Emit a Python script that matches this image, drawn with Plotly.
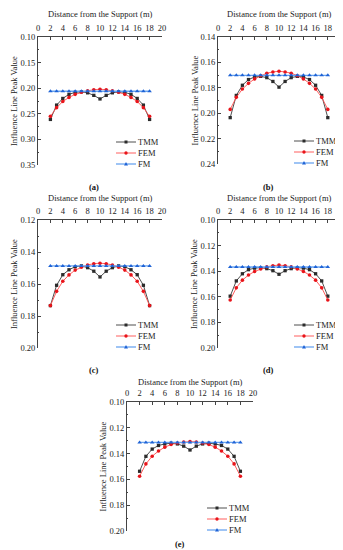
import plotly.graph_objects as go

W, H = 343, 550

x_pos = [2, 3, 4, 5, 6, 7, 8, 9, 10, 11, 12, 13, 14, 15, 16, 17, 18]
x_ticks = [0, 2, 4, 6, 8, 10, 12, 14, 16, 18, 20]
series_names = ["TMM", "FEM", "FM"]
panel_labels = ["(a)", "(b)", "(c)", "(d)", "(e)"]
x_title = "Distance from the Support (m)"
y_title = "Influence Line Peak Value"

tmm_a = [0.261, 0.233, 0.220, 0.212, 0.208, 0.207, 0.209, 0.214, 0.221, 0.214, 0.209, 0.207, 0.208, 0.212, 0.220, 0.233, 0.261]
fem_a = [0.255, 0.238, 0.226, 0.218, 0.212, 0.208, 0.205, 0.203, 0.202, 0.203, 0.205, 0.208, 0.212, 0.218, 0.226, 0.238, 0.255]
fm_a = [0.206] * 17

tmm_b = [0.2035, 0.186, 0.178, 0.1735, 0.1715, 0.171, 0.172, 0.175, 0.1795, 0.175, 0.172, 0.171, 0.1715, 0.1735, 0.178, 0.186, 0.2035]
fem_b = [0.197, 0.1875, 0.181, 0.1765, 0.173, 0.1705, 0.1685, 0.1675, 0.167, 0.1675, 0.1685, 0.1705, 0.173, 0.1765, 0.181, 0.1875, 0.197]
fm_b = [0.1702] * 17

tmm_c = [0.1735, 0.1608, 0.1542, 0.1511, 0.1492, 0.1487, 0.1498, 0.152, 0.1556, 0.152, 0.1498, 0.1487, 0.1492, 0.1511, 0.1542, 0.1608, 0.1735]
fem_c = [0.1735, 0.1646, 0.1583, 0.1543, 0.1513, 0.1495, 0.1481, 0.1473, 0.1470, 0.1473, 0.1481, 0.1495, 0.1513, 0.1543, 0.1583, 0.1646, 0.1735]
fm_c = [0.1487] * 17

tmm_d = [0.1595, 0.1476, 0.1420, 0.1388, 0.1376, 0.1372, 0.1380, 0.1396, 0.1424, 0.1396, 0.1380, 0.1372, 0.1376, 0.1388, 0.1420, 0.1476, 0.1595]
fem_d = [0.1625, 0.1530, 0.1470, 0.1430, 0.1402, 0.1382, 0.1366, 0.1357, 0.1352, 0.1357, 0.1366, 0.1382, 0.1402, 0.1430, 0.1470, 0.1530, 0.1625]
fm_d = [0.1367] * 17

tmm_e = [0.1537, 0.1421, 0.1365, 0.1337, 0.1325, 0.1320, 0.1325, 0.1342, 0.1372, 0.1342, 0.1325, 0.1320, 0.1325, 0.1337, 0.1365, 0.1421, 0.1537]
fem_e = [0.1575, 0.1480, 0.1420, 0.1380, 0.1350, 0.1330, 0.1318, 0.1310, 0.1307, 0.1310, 0.1318, 0.1330, 0.1350, 0.1380, 0.1420, 0.1480, 0.1575]
fm_e = [0.1313] * 17

panels = [
    (tmm_a, fem_a, fm_a, 0.10, 0.35, 0.05),
    (tmm_b, fem_b, fm_b, 0.14, 0.24, 0.02),
    (tmm_c, fem_c, fm_c, 0.12, 0.20, 0.02),
    (tmm_d, fem_d, fm_d, 0.10, 0.20, 0.02),
    (tmm_e, fem_e, fm_e, 0.10, 0.20, 0.02),
]

# pixel boxes: (left, right, top, bottom)
boxes = [(30, 154, 29, 157), (210, 332, 29, 156), (30, 154, 212, 340), (210, 332, 212, 340), (119, 245, 394, 523)]
caption_pos = [(86, 179), (260, 179), (86, 362), (260, 362), (172, 536)]
xtitle_y = [6, 6, 190, 190, 374]
ytitle_x = [6, 186, 6, 186, 94]

line_colors = ["#3a3a3a", "#ff4d4d", "#6aa5f0"]
line_widths = [0.9, 0.9, 1.3]
marker_colors = ["#2b2b2b", "#e8141a", "#1f63d6"]
symbols = ["square", "circle", "triangle-up"]
msizes = [3.3, 3.6, 4.0]

FONT = "Liberation Serif"
AX = "#444444"

fig = go.Figure()
layout = dict(
    width=W, height=H, margin=dict(l=0, r=0, t=0, b=0),
    paper_bgcolor="white", plot_bgcolor="white", showlegend=False,
    font=dict(family=FONT, size=8, color="#222"),
)
shapes = []
annotations = []

for i, (tmm, fem, fm, y0, y1, dt) in enumerate(panels):
    n = "" if i == 0 else str(i + 1)
    xa, ya = "x" + n, "y" + n
    l, r, t, b = boxes[i]
    for k, vals in enumerate([tmm, fem, fm]):
        fig.add_trace(go.Scatter(
            x=x_pos, y=vals, xaxis=xa, yaxis=ya, mode="lines+markers",
            name=series_names[k], cliponaxis=False,
            line=dict(color=line_colors[k], width=line_widths[k]),
            marker=dict(symbol=symbols[k], size=msizes[k], color=marker_colors[k], line=dict(width=0)),
        ))
    layout["xaxis" + n] = dict(
        domain=[l / W, r / W], anchor=ya, side="top", range=[0, 20],
        tickvals=x_ticks, ticks="inside", ticklen=3, tickwidth=0.8, tickcolor=AX,
        ticklabelstandoff=2,
        showline=True, linecolor=AX, linewidth=0.9, showgrid=False, zeroline=False,
        tickfont=dict(size=8.5), automargin=False,
    )
    layout["yaxis" + n] = dict(
        domain=[1 - b / H, 1 - t / H], anchor=xa, range=[y1, y0],
        dtick=dt, tick0=y0, tickformat=".2f", ticks="inside", ticklen=3, tickwidth=0.8, tickcolor=AX,
        ticklabelstandoff=0,
        minor=dict(ticks="inside", ticklen=1.5, dtick=dt / 2, tickcolor=AX, showgrid=False),
        showline=True, linecolor=AX, linewidth=0.9, showgrid=False, zeroline=False,
        tickfont=dict(size=8.5), automargin=False,
    )
    # axis titles
    annotations.append(dict(xref="paper", yref="paper", x=(l + r) / 2 / W, y=1 - xtitle_y[i] / H,
                            text=x_title, showarrow=False, xanchor="center", yanchor="middle",
                            font=dict(size=8.5, family=FONT, color="#222")))
    annotations.append(dict(xref="paper", yref="paper", x=ytitle_x[i] / W, y=1 - (t + b) / 2 / H,
                            text=y_title, showarrow=False, xanchor="center", yanchor="middle", textangle=-90,
                            font=dict(size=8.5, family=FONT, color="#222")))
    # legend (drawn inside plot area, bottom right)
    pw = r - l
    ph = b - t
    rows_px = [23, 12, 1]
    for k in range(3):
        yd = rows_px[k] / ph
        xl0 = (pw - 46) / pw
        xl1 = (pw - 26) / pw
        xm = (xl0 + xl1) / 2
        shapes.append(dict(type="line", xref=xa + " domain", yref=ya + " domain",
                           x0=xl0, x1=xl1, y0=yd, y1=yd,
                           line=dict(color=line_colors[k], width=line_widths[k])))
        common = dict(xref=xa + " domain", yref=ya + " domain", xsizemode="pixel", ysizemode="pixel",
                      xanchor=xm, yanchor=yd, fillcolor=marker_colors[k], line=dict(width=0))
        if k == 0:
            shapes.append(dict(type="rect", x0=-1.5, x1=1.5, y0=-1.5, y1=1.5, **common))
        elif k == 1:
            shapes.append(dict(type="circle", x0=-1.7, x1=1.7, y0=-1.7, y1=1.7, **common))
        else:
            shapes.append(dict(type="path", path="M -2,-1.5 L 2,-1.5 L 0,2 Z", **common))
        annotations.append(dict(xref=xa + " domain", yref=ya + " domain", x=xl1 + 1.0 / pw, y=yd,
                                text=series_names[k], showarrow=False, xanchor="left", yanchor="middle",
                                borderpad=0,
                                font=dict(size=8.5, family=FONT, color="#222")))
    cx, cy = caption_pos[i]
    annotations.append(dict(xref="paper", yref="paper", x=cx / W, y=1 - cy / H, text="<b>%s</b>" % panel_labels[i],
                            showarrow=False, xanchor="center", yanchor="middle", borderpad=0,
                            font=dict(size=8.5, family=FONT, color="#111")))

layout["shapes"] = shapes
layout["annotations"] = annotations
fig.update_layout(**layout)
fig.write_html("out.html")
